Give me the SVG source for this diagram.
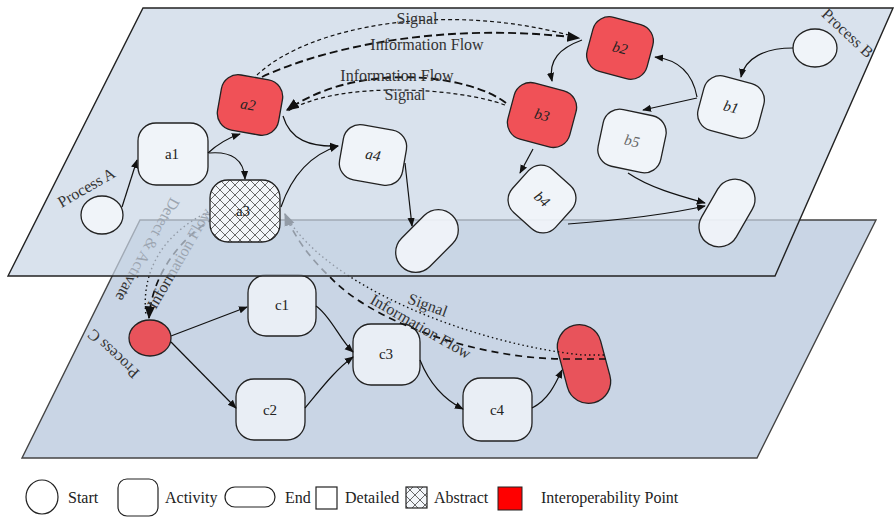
<svg xmlns="http://www.w3.org/2000/svg" width="894" height="517" viewBox="0 0 894 517">
<style>
.t{font-family:"Liberation Serif","Times New Roman",serif;font-size:15px;fill:#222}
.lg{font-family:"Liberation Serif","Times New Roman",serif;font-size:16px;fill:#222}
.lab{font-family:"Liberation Serif","Times New Roman",serif;font-size:16px;fill:#333}
.it{font-style:italic}
.nd{fill:#f3f6fa;fill-opacity:0.88;stroke:#222;stroke-width:1.3}
.ndl{fill:#e9eef5;stroke:#222;stroke-width:1.3}
.red{fill:#f05157;stroke:#222;stroke-width:1.3}
.redl{fill:#e8535b;stroke:#222;stroke-width:1.3}
.hat{fill:url(#hatch);stroke:#222;stroke-width:1.3}
.c{fill:none;stroke:#111;stroke-width:1.2;marker-end:url(#ah)}
.sig{fill:none;stroke:#111;stroke-width:1.2;stroke-dasharray:4 3}
.inf{fill:none;stroke:#111;stroke-width:1.9;stroke-dasharray:8 4}
.dot{fill:none;stroke:#111;stroke-width:1.4;stroke-dasharray:1.5 3}
.dsh{fill:none;stroke:#111;stroke-width:1.7;stroke-dasharray:7 5}
</style>
<defs>
<pattern id="hatch" width="10" height="10" patternUnits="userSpaceOnUse">
<rect width="10" height="10" fill="#f3f6fa"/>
<path d="M0,0 L10,10 M10,0 L0,10" stroke="#444" stroke-width="0.8"/>
</pattern>
<marker id="ah" viewBox="0 0 10 10" refX="9" refY="5" markerWidth="9" markerHeight="9" markerUnits="userSpaceOnUse" orient="auto">
<path d="M0,1 L10,5 L0,9 z" fill="#111"/>
</marker>
<marker id="ahL" viewBox="0 0 10 10" refX="9" refY="5" markerWidth="13" markerHeight="13" markerUnits="userSpaceOnUse" orient="auto">
<path d="M0,1 L10,5 L0,9 z" fill="#111"/>
</marker>
</defs>

<!-- lower plane -->
<polygon id="planeC" points="140,220 876,220 757,458 22,458" fill="#c9d5e5" stroke="#444" stroke-width="1.4"/>

<!-- lower nodes -->
<g id="cStart"><ellipse cx="150" cy="338" rx="21" ry="18" class="redl"/></g>
<g id="c1"><rect x="248" y="275" width="68" height="61" rx="18" class="ndl"/><text x="282" y="310" text-anchor="middle" class="t">c1</text></g>
<g id="c2"><rect x="236" y="379" width="69" height="61" rx="18" class="ndl"/><text x="270" y="415" text-anchor="middle" class="t">c2</text></g>
<g id="c3"><rect x="353" y="324" width="67" height="61" rx="18" class="ndl"/><text x="386" y="359" text-anchor="middle" class="t">c3</text></g>
<g id="c4"><rect x="463" y="378" width="69" height="63" rx="18" class="ndl"/><text x="497" y="415" text-anchor="middle" class="t">c4</text></g>
<g id="cEnd"><rect x="-40" y="-22" width="80" height="44" rx="22" class="redl" transform="translate(584,364) rotate(75)"/></g>

<!-- lower connectors and cross-layer connectors -->
<g id="lowerConnectors">
<path class="c" d="M171,336 L247,307"/>
<path class="c" d="M171,342 L236,408"/>
<path class="c" d="M316,306 C330,315 340,340 353,352"/>
<path class="c" d="M305,408 C320,390 335,370 353,357"/>
<path class="c" d="M420,360 C430,385 445,400 463,409"/>
<path class="c" d="M532,408 C548,400 555,385 562,370"/>
<path class="dot" d="M208,212 C170,230 140,265 146,316"/>
<path class="dsh" d="M214,218 C180,238 152,275 149,318" marker-end="url(#ahL)"/>
<path class="dot" d="M604,355 L583,355 C480,345 330,290 286,216"/>
<path class="dsh" d="M606,359 L560,359 C470,357 370,320 330,277 C310,258 295,238 285,214" marker-end="url(#ahL)"/>
<text class="lab" transform="translate(143,247) rotate(119)" text-anchor="middle">Detect &amp; Activate</text>
<text class="lab" transform="translate(184,261) rotate(-60)" text-anchor="middle">Information Flow</text>
<text class="lab" transform="translate(426,310) rotate(20)" text-anchor="middle">Signal</text>
<text class="lab" transform="translate(418,331) rotate(30)" text-anchor="middle">Information Flow</text>
<text class="lab" transform="translate(117,350) rotate(223)" text-anchor="middle">Process C</text>
</g>

<!-- top plane -->
<polygon id="planeAB" points="143,8 893,8 775,276 8,276" fill="#c9d5e5" fill-opacity="0.7" stroke="#222" stroke-width="1.4"/>
<text class="lab" transform="translate(89,192) rotate(-30)" text-anchor="middle">Process A</text>
<text class="lab" transform="translate(844,37) rotate(43)" text-anchor="middle">Process B</text>

<!-- top nodes -->
<g id="aStart"><ellipse cx="102" cy="215" rx="21" ry="19" class="nd"/></g>
<g id="a1"><rect x="138" y="123" width="70" height="62" rx="18" class="nd"/><text x="172" y="159" text-anchor="middle" class="t">a1</text></g>
<g id="a2" transform="translate(250,105) rotate(10)"><rect x="-31" y="-28" width="62" height="56" rx="17" class="red"/><text x="-2" y="5" text-anchor="middle" class="t it">a2</text></g>
<g id="a3"><rect x="210" y="180" width="70" height="62" rx="18" class="hat"/><text x="243" y="216" text-anchor="middle" class="t" fill="#444">a3</text></g>
<g id="a4" transform="translate(373,155) rotate(10)"><rect x="-32" y="-28" width="64" height="56" rx="17" class="nd"/><text x="0" y="5" text-anchor="middle" class="t it">a4</text></g>
<g id="aEnd"><rect x="-36" y="-20" width="72" height="40" rx="20" class="nd" transform="translate(427,241) rotate(-45)"/></g>
<g id="bStart"><ellipse cx="815" cy="48" rx="22" ry="19" class="nd"/></g>
<g id="b1" transform="translate(731,107) rotate(15)"><rect x="-31" y="-28" width="62" height="56" rx="17" class="nd"/><text x="0" y="5" text-anchor="middle" class="t it">b1</text></g>
<g id="b2" transform="translate(620,48) rotate(15)"><rect x="-31" y="-28" width="62" height="56" rx="17" class="red"/><text x="0" y="5" text-anchor="middle" class="t it">b2</text></g>
<g id="b3" transform="translate(542,115) rotate(15)"><rect x="-32" y="-29" width="64" height="58" rx="17" class="red"/><text x="0" y="5" text-anchor="middle" class="t it">b3</text></g>
<g id="b5" transform="translate(632,141) rotate(12)"><rect x="-32" y="-29" width="64" height="58" rx="17" class="nd"/><text x="0" y="5" text-anchor="middle" class="t it" style="fill:#666">b5</text></g>
<g id="b4" transform="translate(542,199) rotate(42)"><rect x="-29" y="-29" width="58" height="58" rx="17" class="nd"/><text x="0" y="5" text-anchor="middle" class="t it">b4</text></g>
<g id="bEnd"><rect x="-36" y="-20" width="72" height="40" rx="20" class="nd" transform="translate(727,213) rotate(-60)"/></g>

<!-- top connectors -->
<g id="topConnectors">
<path class="c" d="M122,207 L137,160"/>
<path class="c" d="M208,153 Q222,140 240,134"/>
<path class="c" d="M209,153 C232,151 244,160 245,179"/>
<path class="c" d="M283,116 C290,140 310,147 338,146"/>
<path class="c" d="M281,207 C292,175 310,155 338,146"/>
<path class="c" d="M405,163 L412,226"/>
<path class="c" d="M793,48 C765,48 745,58 741,77"/>
<path class="c" d="M697,97 C693,75 680,60 655,57"/>
<path class="c" d="M697,98 L643,110"/>
<path class="c" d="M582,40 C560,48 548,60 552,81"/>
<path class="c" d="M533,149 L520,173"/>
<path class="c" d="M628,173 C650,188 680,196 705,203"/>
<path class="c" d="M568,224 C620,220 670,214 705,206"/>
<path class="sig" d="M257,75 C310,25 450,0 579,38"/>
<path class="inf" d="M262,77 C330,45 450,22 579,38" marker-end="url(#ahL)"/>
<path class="inf" d="M506,103 C470,75 360,60 287,110" marker-end="url(#ahL)"/>
<path class="sig" d="M505,105 C460,88 340,80 288,111"/>
<text class="lab" x="417" y="24" text-anchor="middle">Signal</text>
<text class="lab" x="427" y="50" text-anchor="middle">Information Flow</text>
<text class="lab" x="397" y="81" text-anchor="middle">Information Flow</text>
<text class="lab" x="405" y="100" text-anchor="middle">Signal</text>
</g>

<!-- legend -->
<g id="legend">
<ellipse cx="42" cy="497" rx="16" ry="17" fill="none" stroke="#222" stroke-width="1.2"/>
<text class="lg" x="68" y="503">Start</text>
<rect x="118" y="479" width="40" height="37" rx="9" fill="none" stroke="#222" stroke-width="1.2"/>
<text class="lg" x="165" y="503">Activity</text>
<rect x="225" y="487" width="50" height="20" rx="10" fill="none" stroke="#222" stroke-width="1.2"/>
<text class="lg" x="285" y="503">End</text>
<rect x="316" y="487" width="21" height="22" fill="none" stroke="#222" stroke-width="1.2"/>
<text class="lg" x="345" y="503">Detailed</text>
<rect x="406" y="487" width="21" height="21" fill="url(#hatch)" stroke="#222" stroke-width="1.2"/>
<text class="lg" x="434" y="503">Abstract</text>
<rect x="498" y="487" width="24" height="23" fill="#ff0000" stroke="#222" stroke-width="1"/>
<text class="lg" x="541" y="503">Interoperability Point</text>
</g>
</svg>
